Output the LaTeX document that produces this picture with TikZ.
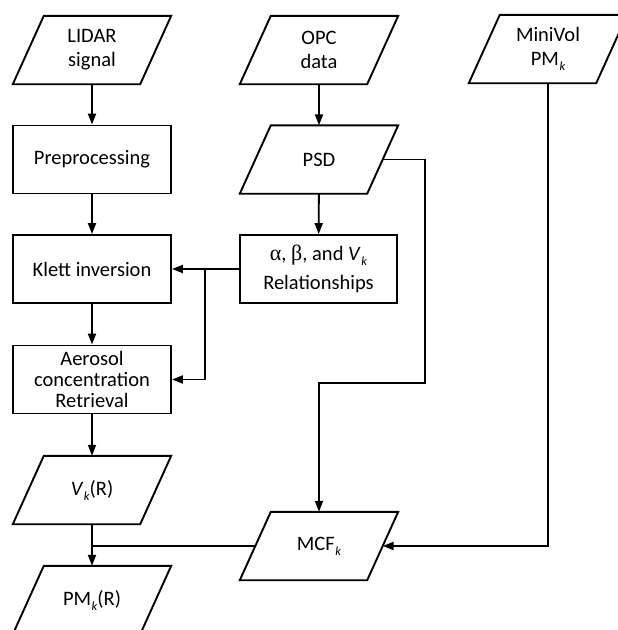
\documentclass[tikz,border=0pt]{standalone}
\usepackage{fontspec}
\setmainfont{Carlito}
\newfontfamily\grk{Liberation Serif}
\usetikzlibrary{arrows.meta,calc}
\newcommand\lowk{\kern0.6pt\raisebox{-5pt}{\fontsize{12.5pt}{12.5pt}\selectfont\itshape k}}
\newcommand\drawpara[1]{\draw[outline] ([xshift=-15.5pt]#1.south west) -- ([xshift=15.5pt]#1.north west) -- ([xshift=15.5pt]#1.north east) -- ([xshift=-15.5pt]#1.south east) -- cycle;}
\tikzset{
  outline/.style={line width=1.9pt, line join=miter},
  txt/.style={font=\fontsize{20.5pt}{21pt}\selectfont, align=center, inner sep=0pt},
  procbox/.style={txt, draw, line width=1.9pt, minimum width=158pt, minimum height=68pt},
  parabox/.style={txt, font=\fontsize{20.5pt}{24pt}\selectfont, minimum width=127pt, minimum height=68pt},
  conn/.style={line width=1.9pt},
  arr/.style={conn, -{Triangle[length=11pt,width=8pt]}}
}
\begin{document}
\begin{tikzpicture}[x=1pt,y=-1pt]
\useasboundingbox (0,0) rectangle (618,630);
\clip (0,0) rectangle (618,630);
\fill[white] (0,0) rectangle (618,630);
% nodes
\node[parabox] (lidar) at (92,50) {LIDAR\\signal};
\node[parabox] (opc) at (319,50) {OPC\\data};
\node[parabox] (minivol) at (548,49) {MiniVol\\PM\lowk};
\node[procbox] (prep) at (92,159.5) {Preprocessing};
\node[parabox] (psd) at (319,159.5) {PSD};
\node[procbox] (klett) at (92,269) {Klett inversion};
\node[procbox, minimum width=157pt] (rel) at (318.5,269) {{\grk\fontsize{22pt}{21pt}\selectfont α}, {\grk\fontsize{22pt}{21pt}\selectfont β}, and \textit{V}\lowk\\[8pt]Relationships};
\node[procbox] (aer) at (92,379.5) {Aerosol\\concentration\\Retrieval};
\node[parabox] (vk) at (92,490) {\textit{V}\lowk(R)};
\node[parabox] (mcf) at (319,546) {MCF\lowk};
\node[parabox] (pm) at (92,600) {PM\lowk(R)};
\drawpara{lidar}
\drawpara{opc}
\drawpara{minivol}
\drawpara{psd}
\drawpara{vk}
\drawpara{mcf}
\drawpara{pm}
% helper coordinates
\coordinate (br) at (205,269);
\coordinate (psdr) at (425,159.5);
\coordinate (psdd) at (425,383);
\coordinate (psdl) at (319,383);
\coordinate (mvd) at (548,546);
\coordinate (join) at (92,546);
% connectors
\draw[arr] (lidar) -- (prep);
\draw[arr] (prep) -- (klett);
\draw[arr] (klett) -- (aer);
\draw[arr] (aer) -- (vk);
\draw[arr] (vk) -- (pm);
\draw[arr] (opc) -- (psd);
\draw[arr] (psd) -- (rel);
\draw[arr] (rel.west) -- (klett.east);
\draw[arr] (br) |- (aer.east);
\draw[arr] (psd.east) -- (psdr) -- (psdd) -- (psdl) -- (mcf.north);
\draw[arr] (minivol.south) -- (mvd) -- (mcf.east);
\draw[conn] (mcf.west) -- (join);
\end{tikzpicture}
\end{document}
